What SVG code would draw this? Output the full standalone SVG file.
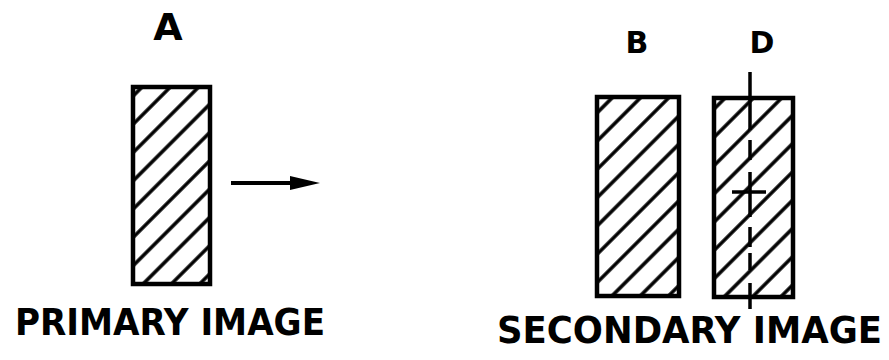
<svg xmlns="http://www.w3.org/2000/svg" width="889" height="360" viewBox="0 0 889 360">
<style>
.t{font-family:"DejaVu Sans","Liberation Sans",Arial,sans-serif;font-weight:bold;fill:#000}
.c{font-family:"DejaVu Sans Condensed","Liberation Sans",Arial,sans-serif;font-weight:bold;fill:#000}
.box{fill:url(#hatch);stroke:#000;stroke-width:4.5}
.ln{stroke:#000;stroke-width:3.5;fill:none}
</style>
<defs>
<pattern id="hatch" patternUnits="userSpaceOnUse" width="20" height="20" patternTransform="rotate(45)">
<rect width="20" height="20" fill="#fff"/>
<line x1="2" y1="0" x2="2" y2="20" stroke="#000" stroke-width="3.5"/>
</pattern>
</defs>
<rect width="889" height="360" fill="#fff"/>
<g id="nodeA">
<text class="t" x="168" y="40" font-size="38" text-anchor="middle">A</text>
<rect class="box" x="133" y="87" width="77" height="197"/>
</g>
<g id="nodeB">
<text class="t" x="637" y="53" font-size="30" text-anchor="middle">B</text>
<rect class="box" x="597" y="97" width="82" height="199"/>
</g>
<g id="nodeD">
<text class="t" x="762" y="53" font-size="30" text-anchor="middle">D</text>
<rect class="box" x="714" y="98" width="79" height="199"/>
<path class="ln" d="M750,72 V130 M750,140 V160 M750,172 V217 M750,227 V247 M750,253 V270 M750,283 V309"/>
<line class="ln" x1="732" y1="192" x2="766" y2="192"/>
</g>
<g id="connectors">
<line x1="231" y1="183" x2="295" y2="183" stroke="#000" stroke-width="4"/>
<path d="M290,176 L320,183 L290,190 Z" fill="#000"/>
</g>
<g id="captions">
<text class="c" x="15" y="335" font-size="38" textLength="310" lengthAdjust="spacingAndGlyphs">PRIMARY IMAGE</text>
<text class="c" x="497" y="343" font-size="37" textLength="385" lengthAdjust="spacingAndGlyphs">SECONDARY IMAGE</text>
</g>
</svg>
